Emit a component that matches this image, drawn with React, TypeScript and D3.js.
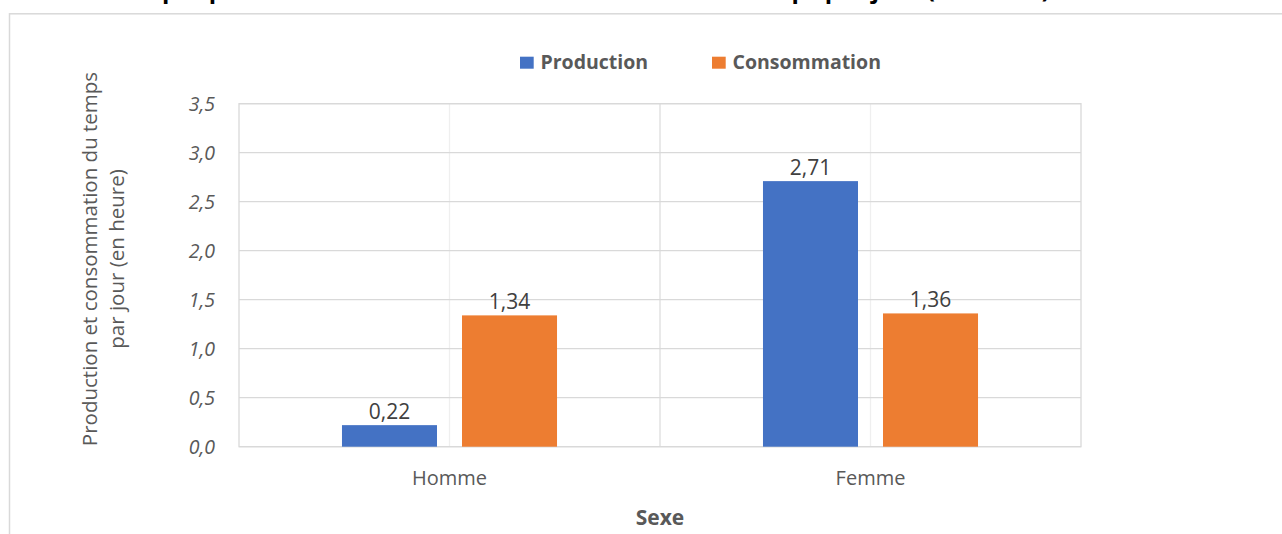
import React from "react";
import * as d3 from "d3";

const categories = ["Homme", "Femme"];
const seriesNames = ["Production", "Consommation"];
const production = [0.22, 2.71];
const consommation = [1.34, 1.36];
const yTicks = [0, 0.5, 1, 1.5, 2, 2.5, 3, 3.5];
const colors = ["#4472C4", "#ED7D31"];
const titleText = "Nombre d'heures par production et de la consommation totale du temps par jour (en heure)";
const yTitleLines = ["Production et consommation du temps", "par jour (en heure)"];
const xTitle = "Sexe";

const W = 1282;
const H = 534;
const FONT = "'Open Sans', 'Segoe UI', sans-serif";

export default function App() {
  const plot = { left: 239, right: 1081, top: 103.7, bottom: 446.7 };
  const x = d3.scaleBand<string>().domain(categories).range([plot.left, plot.right]).paddingInner(0).paddingOuter(0);
  const xs = d3
    .scaleBand<string>()
    .domain(seriesNames)
    .range([0, x.bandwidth()])
    .paddingInner(0.2083)
    .paddingOuter(0.858);
  const y = d3.scaleLinear().domain([0, 3.5]).range([plot.bottom, plot.top]);
  const fmtTick = (v: number) => d3.format(".1f")(v).replace(".", ",");
  const fmtVal = (v: number) => d3.format(".2f")(v).replace(".", ",");
  const values = [production, consommation];

  const bars: { key: string; x: number; y: number; w: number; h: number; color: string; v: number }[] = [];
  categories.forEach((c, ci) => {
    seriesNames.forEach((s, si) => {
      const v = values[si][ci];
      const bx = (x(c) as number) + (xs(s) as number);
      bars.push({ key: c + s, x: bx, y: y(v), w: xs.bandwidth(), h: y(0) - y(v), color: colors[si], v });
    });
  });

  const yMid = 259;

  return (
    <svg
      width={W}
      height={H}
      style={{ position: "absolute", left: 0, top: 0, background: "#fff" }}
      fontFamily={FONT}
    >
      <rect x={0} y={0} width={W} height={H} fill="#fff" />
      {/* title, cut off at the top edge as in the reference */}
      <text x={1050} y={-2.2} textAnchor="end" fontWeight="bold" fontSize={24} fill="#000">
        {titleText}
      </text>
      {/* outer chart border */}
      <rect x={9.5} y={13.8} width={W + 20} height={H + 20} fill="none" stroke="#d9d9d9" strokeWidth={1.5} />

      {/* minor vertical gridlines at category centers */}
      {categories.map((c) => (
        <line
          key={"mv" + c}
          x1={(x(c) as number) + x.bandwidth() / 2}
          x2={(x(c) as number) + x.bandwidth() / 2}
          y1={plot.top}
          y2={plot.bottom}
          stroke="#efefef"
          strokeWidth={1.3}
        />
      ))}
      {/* major vertical gridlines at category boundaries */}
      {categories.slice(1).map((c) => (
        <line key={"Mv" + c} x1={x(c) as number} x2={x(c) as number} y1={plot.top} y2={plot.bottom} stroke="#dedede" strokeWidth={1.3} />
      ))}
      {/* horizontal gridlines */}
      {yTicks.map((t) => (
        <line key={"h" + t} x1={plot.left} x2={plot.right} y1={y(t)} y2={y(t)} stroke="#d9d9d9" strokeWidth={1.3} />
      ))}
      {/* plot frame */}
      <rect
        x={plot.left}
        y={plot.top}
        width={plot.right - plot.left}
        height={plot.bottom - plot.top}
        fill="none"
        stroke="#d9d9d9"
        strokeWidth={1.3}
      />

      {/* bars */}
      {bars.map((b) => (
        <g key={b.key}>
          <rect x={b.x} y={b.y} width={b.w} height={b.h} fill={b.color} />
          <text x={b.x + b.w / 2} y={b.y - 6} textAnchor="middle" fontSize={21} fill="#404040">
            {fmtVal(b.v)}
          </text>
        </g>
      ))}

      {/* y tick labels */}
      {yTicks.map((t) => (
        <text key={"yt" + t} x={215} y={y(t) + 7} textAnchor="end" fontSize={19.5} fontStyle="italic" fill="#595959">
          {fmtTick(t)}
        </text>
      ))}

      {/* category labels */}
      {categories.map((c) => (
        <text key={"cl" + c} x={(x(c) as number) + x.bandwidth() / 2} y={485} textAnchor="middle" fontSize={20} fill="#595959">
          {c}
        </text>
      ))}

      {/* x title */}
      <text x={(plot.left + plot.right) / 2} y={525} textAnchor="middle" fontSize={21} fontWeight="bold" fill="#595959">
        {xTitle}
      </text>

      {/* y title */}
      {yTitleLines.map((l, i) => (
        <text
          key={"ytl" + i}
          transform={`translate(${96.7 + i * 27.3},${yMid}) rotate(-90)`}
          textAnchor="middle"
          fontSize={20.5}
          fill="#595959"
        >
          {l}
        </text>
      ))}

      {/* legend */}
      {seriesNames.map((s, i) => {
        const lx = [520, 712][i];
        return (
          <g key={"lg" + s}>
            <rect x={lx} y={56.7} width={13.7} height={12} fill={colors[i]} />
            <text x={lx + 20.5} y={69} fontSize={19.5} fontWeight="bold" fill="#595959">
              {s}
            </text>
          </g>
        );
      })}
    </svg>
  );
}
